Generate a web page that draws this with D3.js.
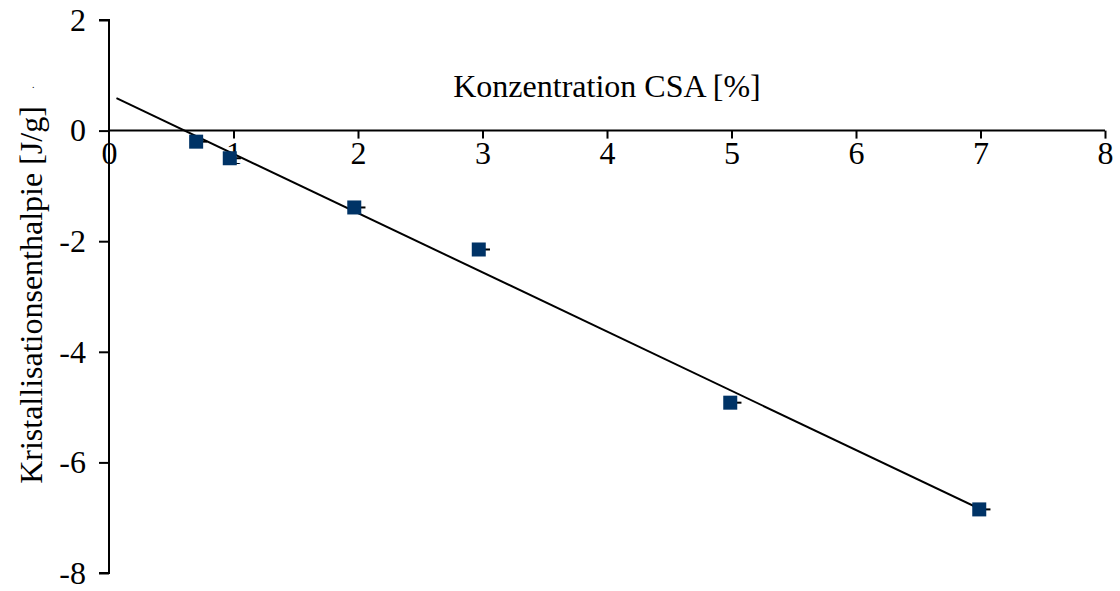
<!doctype html>
<html>
<head>
  <meta charset="utf-8">
  <title>Kristallisationsenthalpie</title>
  <style>
    body { margin: 0; background: #fff; }
  </style>
</head>
<body>
  <div id="chart"></div>
  <script src="https://d3js.org/d3.v7.min.js"></script>
  <script>
    // data
    const konzentration = [0.7, 0.97, 1.97, 2.97, 4.99, 6.99];
    const enthalpie = [-0.2, -0.5, -1.39, -2.15, -4.92, -6.85];
    const fehlerX = [0.09, 0.09, 0.09, 0.09, 0.09, 0.09];
    const trendX = [0.06, 7];
    const trendSlope = -1.071;
    const trendIntercept = 0.65;
    const xTicks = [0, 1, 2, 3, 4, 5, 6, 7, 8];
    const yTicks = [2, 0, -2, -4, -6, -8];

    const FONT = '"Liberation Serif", "Times New Roman", "DejaVu Serif", serif';
    const width = 1120, height = 591;
    const svg = d3.select('#chart').append('svg')
      .attr('width', width).attr('height', height);

    const x = d3.scaleLinear().domain([0, 8]).range([109, 1105]);
    const y = d3.scaleLinear().domain([-8, 2]).range([573, 20]);

    // y axis
    const yAxis = svg.append('g')
      .attr('transform', `translate(${x(0)},0)`)
      .call(d3.axisLeft(y).tickValues(yTicks).tickSize(10).tickPadding(13).tickFormat(d => String(d)));
    yAxis.attr('font-family', FONT).attr('font-size', 32);
    yAxis.select('.domain').attr('stroke-width', 2).attr('d', `M-10,${y(2)}H0V${y(-8)}H-10`);
    yAxis.selectAll('.tick line').attr('stroke-width', 2);

    // x axis through zero
    const xAxis = svg.append('g')
      .attr('transform', `translate(0,${y(0)})`)
      .call(d3.axisBottom(x).tickValues(xTicks).tickSize(8).tickPadding(3).tickFormat(d => String(d)));
    xAxis.attr('font-family', FONT).attr('font-size', 32);
    xAxis.select('.domain').attr('stroke-width', 2).attr('d', `M${x(0)},0H${x(8)}`);
    xAxis.selectAll('.tick line').attr('stroke-width', 2).attr('y2', d => d === 0 ? 0 : 8);

    // trend line
    svg.append('line')
      .attr('x1', x(trendX[0])).attr('y1', y(trendSlope * trendX[0] + trendIntercept))
      .attr('x2', x(trendX[1])).attr('y2', y(trendSlope * trendX[1] + trendIntercept))
      .attr('stroke', '#000').attr('stroke-width', 2);

    const pts = konzentration.map((k, i) => ({ k, e: enthalpie[i], err: fehlerX[i] }));

    // x error bars (plus side)
    svg.selectAll('.err').data(pts).join('line')
      .attr('class', 'err')
      .attr('x1', d => x(d.k)).attr('x2', d => x(d.k + d.err))
      .attr('y1', d => y(d.e)).attr('y2', d => y(d.e))
      .attr('stroke', '#000').attr('stroke-width', 2);

    // markers
    const s = 14;
    svg.selectAll('.pt').data(pts).join('rect')
      .attr('class', 'pt')
      .attr('x', d => x(d.k) - s / 2).attr('y', d => y(d.e) - s / 2)
      .attr('width', s).attr('height', s)
      .attr('fill', '#003366');

    // axis titles
    svg.append('text')
      .attr('x', 607).attr('y', 97)
      .attr('text-anchor', 'middle')
      .attr('font-family', FONT).attr('font-size', 32)
      .text('Konzentration CSA [%]');

    svg.append('text')
      .attr('transform', `translate(42,295) rotate(-90)`)
      .attr('text-anchor', 'middle')
      .attr('font-family', FONT).attr('font-size', 32)
      .text('Kristallisationsenthalpie [J/g]');

    svg.append('text')
      .attr('x', 32).attr('y', 88)
      .attr('font-family', FONT).attr('font-size', 10)
      .text('.');
  </script>
</body>
</html>
